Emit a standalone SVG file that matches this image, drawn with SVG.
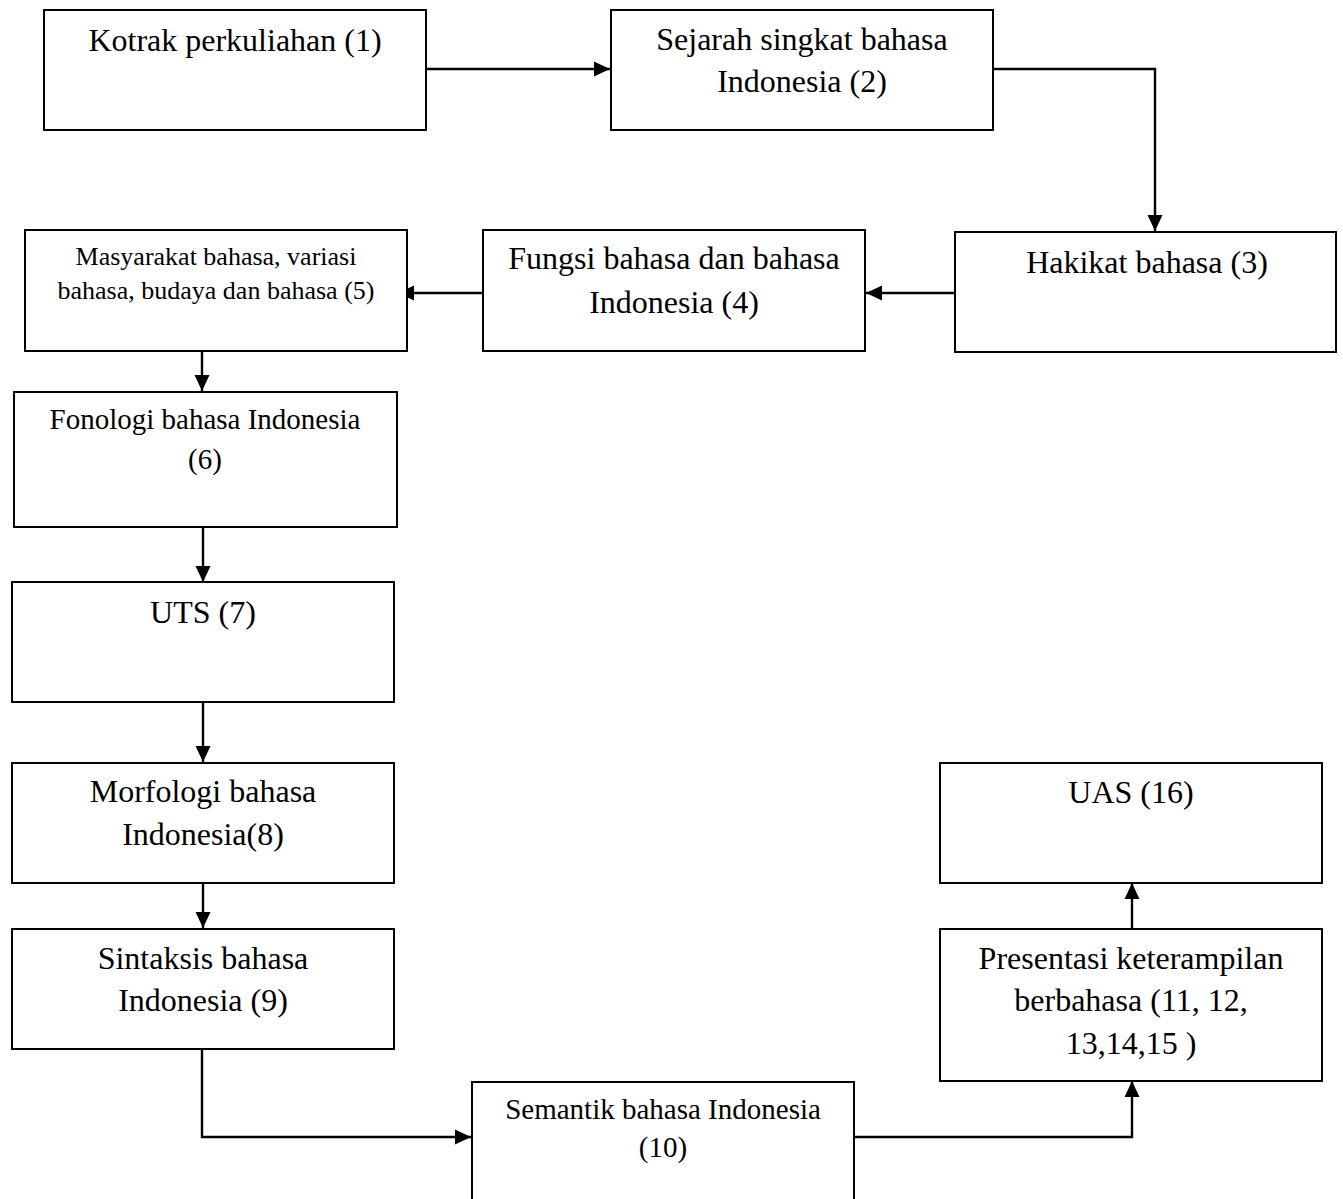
<svg xmlns="http://www.w3.org/2000/svg" width="1343" height="1199" viewBox="0 0 1343 1199">
<style>
.box{fill:#fff;stroke:#000;stroke-width:2}
.t{font-family:"Liberation Serif","Times New Roman",serif;font-size:32px;fill:#000;text-anchor:middle}
.s29{font-size:29px}
.s26{font-size:26px}
.c{fill:none;stroke:#000;stroke-width:2.4}
</style>
<defs>
<marker id="ah" markerWidth="16" markerHeight="16" refX="16" refY="8" orient="auto" markerUnits="userSpaceOnUse">
<path d="M0,0.5 L16,8 L0,15.5 z" fill="#000"/>
</marker>
</defs>
<rect width="1343" height="1199" fill="#fff"/>
<g id="connectors">
<path class="c" d="M426,69 H610" marker-end="url(#ah)"/>
<path class="c" d="M993,69 H1155 V231" marker-end="url(#ah)"/>
<path class="c" d="M955,293 H866" marker-end="url(#ah)"/>
<path class="c" d="M483,293 H398" marker-end="url(#ah)"/>
<path class="c" d="M202,351 V391" marker-end="url(#ah)"/>
<path class="c" d="M203,527 V582" marker-end="url(#ah)"/>
<path class="c" d="M203,702 V762" marker-end="url(#ah)"/>
<path class="c" d="M203,883 V928" marker-end="url(#ah)"/>
<path class="c" d="M202,1049 V1137 H471" marker-end="url(#ah)"/>
<path class="c" d="M854,1137 H1132 V1081" marker-end="url(#ah)"/>
<path class="c" d="M1132,929 V883" marker-end="url(#ah)"/>
</g>
<g id="n1">
<rect class="box" x="44" y="10" width="382" height="120"/>
<text class="t" x="235" y="51">Kotrak perkuliahan (1)</text>
</g>
<g id="n2">
<rect class="box" x="611" y="10" width="382" height="120"/>
<text class="t" x="802" y="50">Sejarah singkat bahasa</text>
<text class="t" x="802" y="92">Indonesia (2)</text>
</g>
<g id="n3">
<rect class="box" x="955" y="232" width="381" height="120"/>
<text class="t" x="1147" y="273">Hakikat bahasa (3)</text>
</g>
<g id="n4">
<rect class="box" x="483" y="230" width="382" height="121"/>
<text class="t" x="674" y="269">Fungsi bahasa dan bahasa</text>
<text class="t" x="674" y="313">Indonesia (4)</text>
</g>
<g id="n5">
<rect class="box" x="25" y="230" width="382" height="121"/>
<text class="t s26" x="216" y="265">Masyarakat bahasa, variasi</text>
<text class="t s26" x="216" y="299">bahasa, budaya dan bahasa (5)</text>
</g>
<g id="n6">
<rect class="box" x="14" y="392" width="383" height="135"/>
<text class="t s29" x="205" y="429">Fonologi bahasa Indonesia</text>
<text class="t s29" x="205" y="469">(6)</text>
</g>
<g id="n7">
<rect class="box" x="12" y="582" width="382" height="120"/>
<text class="t" x="203" y="623">UTS (7)</text>
</g>
<g id="n8">
<rect class="box" x="12" y="763" width="382" height="120"/>
<text class="t" x="203" y="802">Morfologi bahasa</text>
<text class="t" x="203" y="845">Indonesia(8)</text>
</g>
<g id="n9">
<rect class="box" x="12" y="929" width="382" height="120"/>
<text class="t" x="203" y="969">Sintaksis bahasa</text>
<text class="t" x="203" y="1011">Indonesia (9)</text>
</g>
<g id="n10">
<rect class="box" x="472" y="1082" width="382" height="130"/>
<text class="t s29" x="663" y="1119">Semantik bahasa Indonesia</text>
<text class="t s29" x="663" y="1157">(10)</text>
</g>
<g id="n11">
<rect class="box" x="940" y="929" width="382" height="152"/>
<text class="t" x="1131" y="969">Presentasi keterampilan</text>
<text class="t" x="1131" y="1011">berbahasa (11, 12,</text>
<text class="t" x="1131" y="1054">13,14,15 )</text>
</g>
<g id="n16">
<rect class="box" x="940" y="763" width="382" height="120"/>
<text class="t" x="1131" y="803">UAS (16)</text>
</g>
</svg>
